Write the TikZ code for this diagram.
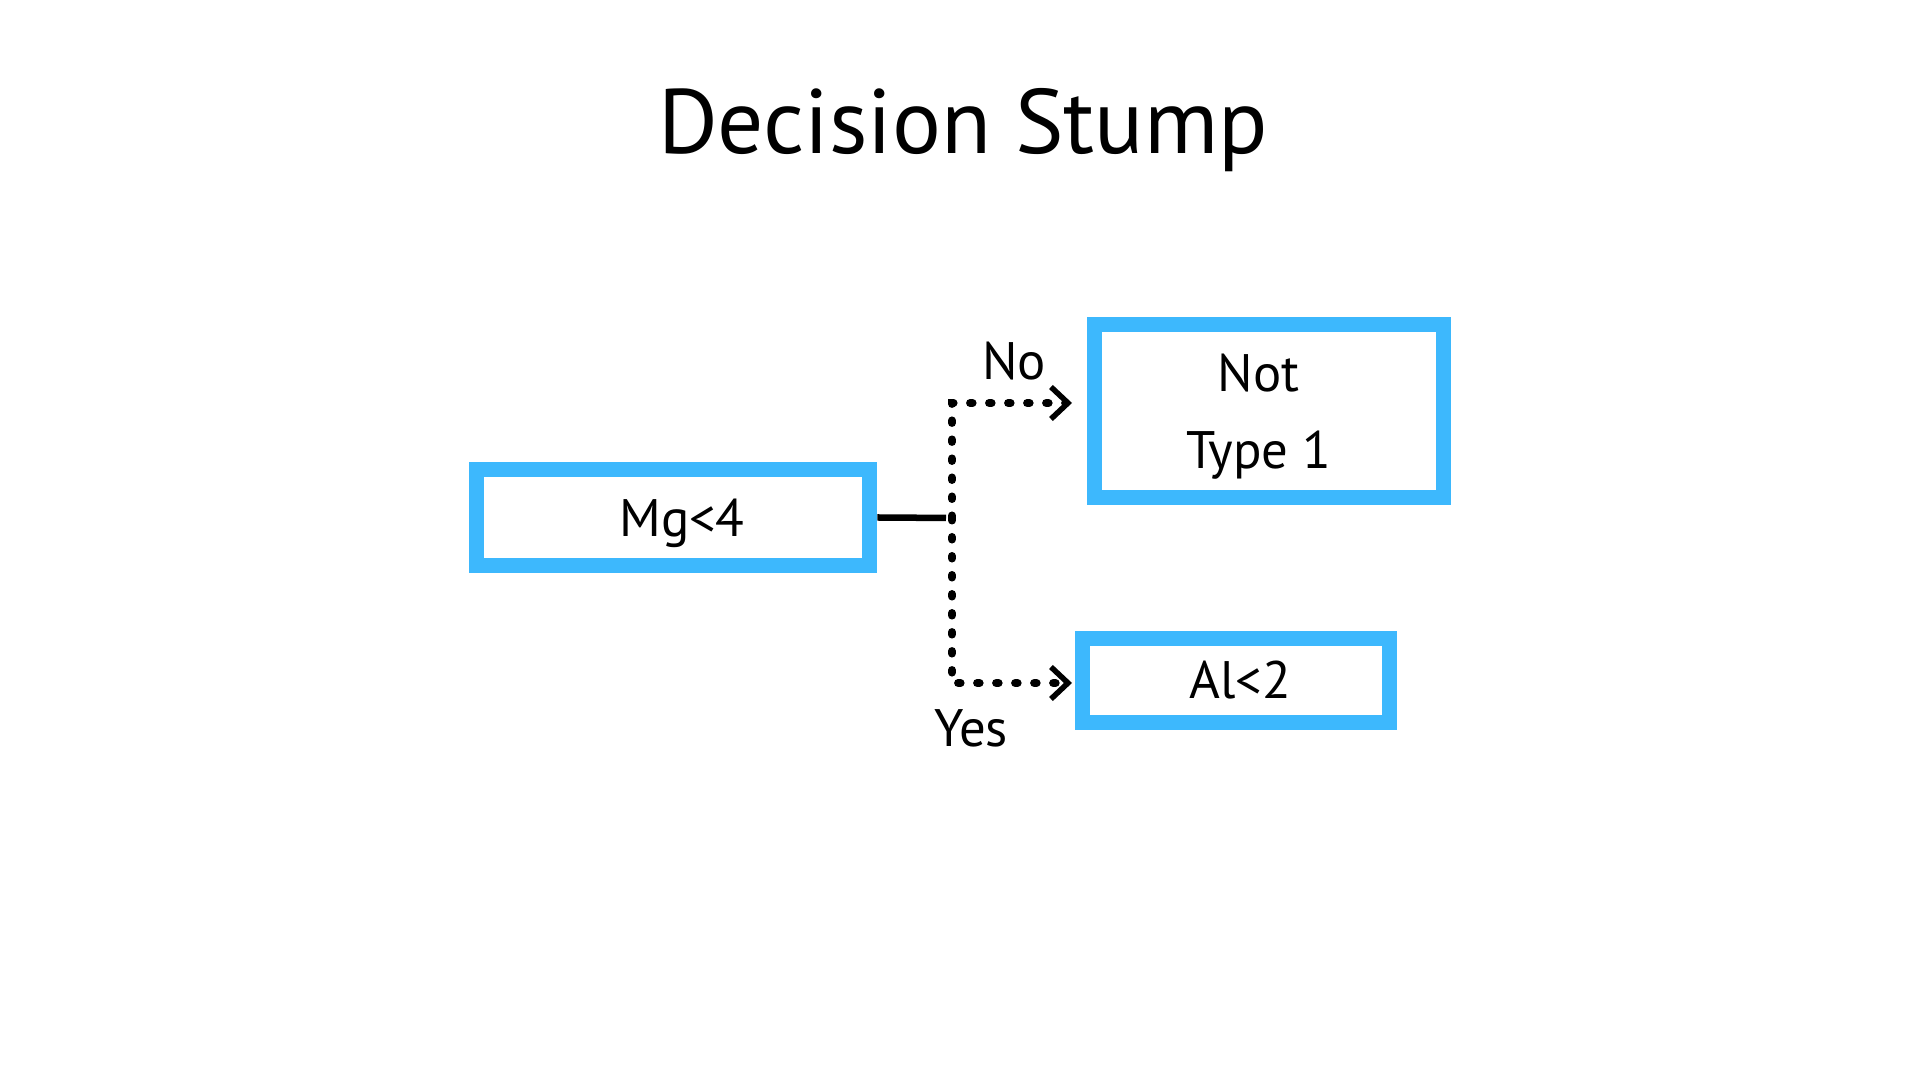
\documentclass[tikz,border=0pt]{standalone}
\usepackage{fontspec}
\setmainfont{PT Sans}
\usetikzlibrary{arrows.meta,positioning}
\definecolor{boxblue}{RGB}{61,184,253}

\begin{document}
\begin{tikzpicture}[x=0.01cm,y=-0.01cm,
	box/.style={draw=boxblue,line width=0.15cm,inner sep=0pt,font=\fontsize{15}{22}\selectfont,align=center},
	branch/.style={line width=0.08cm,line cap=round,dash pattern=on 0.025cm off 0.165cm,-{Straight Barb[length=0.17cm,width=0.32cm,line width=0.055cm]}},
	lbl/.style={font=\fontsize{15}{18}\selectfont,anchor=base}]
	\useasboundingbox (0,0) rectangle (1920,1080);
	\node[anchor=base,font=\fontsize{26}{31}\selectfont] (title) at (963,154) {Decision Stump};
	\node[box,minimum width=3.935cm,minimum height=0.96cm,text height=0.39cm,text depth=0cm] (mg) at (673,517.5) {\hspace*{0.18cm}Mg<4};
	\node[box,minimum width=3.485cm,minimum height=1.725cm] (nottype) at (1268.75,410.75) {\rule{0pt}{0.49cm}Not\hspace*{0.2cm}\\Type 1\hspace*{0.2cm}};
	\node[box,minimum width=3.07cm,minimum height=0.835cm] (al) at (1236,680.25) {\hspace*{0.08cm}Al<2};
	\coordinate (split) at (952,518);
	\coordinate (noend) at (1072,403);
	\coordinate (yesend) at (1072,683);
	\draw[line width=0.065cm,shorten >=0.06cm] (mg.east) -- (split);
	\draw[branch] (split) |- (noend);
	\draw[branch] (split) |- (yesend);
	\node[lbl] (no) at (1014,380) {No};
	\node[lbl] (yes) at (971,747) {Yes};
\end{tikzpicture}
\end{document}
